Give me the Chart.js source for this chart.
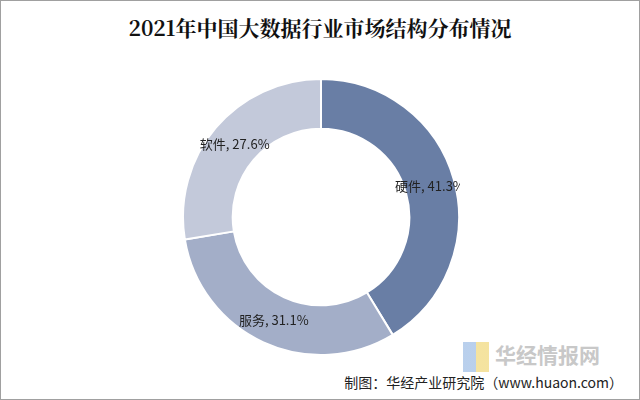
<!DOCTYPE html>
<html>
<head>
<meta charset="utf-8">
<script src="https://cdn.jsdelivr.net/npm/chart.js@4/dist/chart.umd.min.js"></script>
<style>
  html, body { margin: 0; padding: 0; background: #fff; }
  #frame { position: relative; width: 638px; height: 398px; border: 1px solid #a0a0a0; overflow: hidden; }
  #title { position: absolute; top: 11px; left: 0; width: 100%; text-align: center;
           font-family: "Noto Serif CJK SC", "Noto Sans CJK SC", serif; font-weight: bold; font-size: 21px; color: #111; }
  #wrap { position: absolute; left: 181px; top: 77px; width: 278px; height: 278px; }
  #source { position: absolute; right: 16px; top: 371px; font-family: "Noto Sans CJK SC", sans-serif; font-size: 14px; color: #222; }
  #logo { position: absolute; left: 462px; top: 338px; font-family: "Noto Sans CJK SC", sans-serif; font-weight: bold; font-size: 21px; color: #c8c8c8; }
  #logo .sq { display: inline-block; width: 26px; height: 30px; background: linear-gradient(90deg, #a8c4e8 50%, #f2dc88 50%); vertical-align: middle; margin-right: 6px; opacity: 0.8; }
</style>
</head>
<body>
<div id="frame">
  <div id="title">2021年中国大数据行业市场结构分布情况</div>
  <div id="wrap"><canvas id="pie"></canvas></div>
  <div id="logo"><span class="sq"></span>华经情报网</div>
  <div id="source">制图：华经产业研究院（www.huaon.com）</div>
</div>
<script>
// 2021 market structure
const categories = ['硬件', '服务', '软件'];
const shares = [41.3, 31.1, 27.6];
const colors = ['#697ea5', '#a3aec8', '#c3c9da'];

const sliceLabels = {
    id: 'sliceLabels',
    afterDatasetsDraw(chart) {
        const ctx = chart.ctx;
        const meta = chart.getDatasetMeta(0);
        ctx.save();
        ctx.font = '13px "Noto Sans CJK SC", sans-serif';
        ctx.fillStyle = '#222';
        ctx.textAlign = 'center';
        ctx.textBaseline = 'middle';
        meta.data.forEach((arc, i) => {
            const p = arc.tooltipPosition();
            ctx.fillText(`${categories[i]}, ${shares[i]}%`, p.x, p.y);
        });
        ctx.restore();
    }
};

new Chart(document.getElementById('pie'), {
    type: 'doughnut',
    data: {
        labels: categories,
        datasets: [{
            data: shares,
            backgroundColor: colors,
            borderColor: '#fff',
            borderWidth: 2
        }]
    },
    options: {
        responsive: true,
        maintainAspectRatio: false,
        animation: false,
        cutout: '64%',
        plugins: {
            legend: { display: false },
            tooltip: { enabled: false }
        }
    },
    plugins: [sliceLabels]
});
</script>
</body>
</html>
